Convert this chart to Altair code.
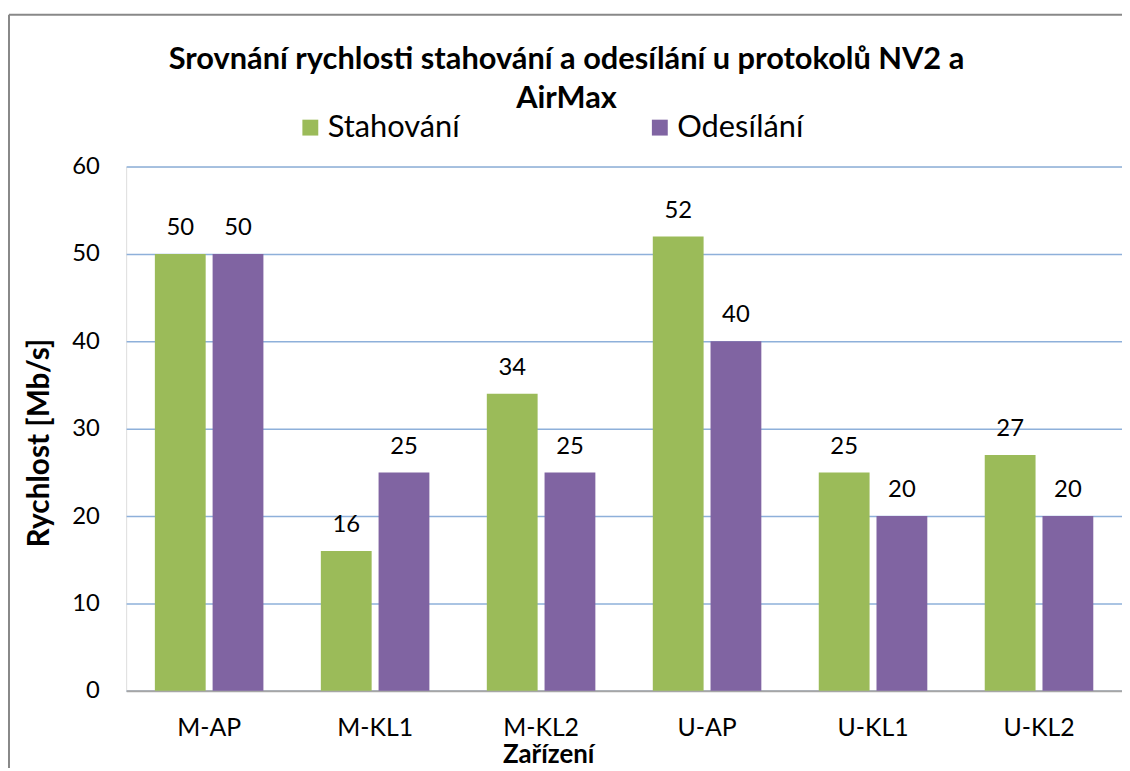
import altair as alt
import pandas as pd

devices = ["M-AP", "M-KL1", "M-KL2", "U-AP", "U-KL1", "U-KL2"]
series = ["Stahování", "Odesílání"]
download = [50, 16, 34, 52, 25, 27]
upload = [50, 25, 25, 40, 20, 20]
colors = ["#9BBB59", "#8064A2"]
y_ticks = [0, 10, 20, 30, 40, 50, 60]

rows = []
for d, a, b in zip(devices, download, upload):
    rows.append({"device": d, "series": series[0], "value": a})
    rows.append({"device": d, "series": series[1], "value": b})
df = pd.DataFrame(rows)

FONT = "Lato"
W, H = 1003, 528

x_enc = alt.X(
    "device:N", sort=devices, title="Zařízení",
    scale=alt.Scale(paddingInner=0.346, paddingOuter=0.173),
    axis=alt.Axis(
        labelAngle=0, labelFont=FONT, labelFontSize=25, labelColor="#000",
        labelPadding=25, ticks=False, domainColor="#A6A6A6", domainWidth=2,
        titleFont=FONT, titleFontSize=26, titleFontWeight="bold", titleColor="#000",
        titleX=425, titleY=64, titleBaseline="middle", titleAlign="center",
    ),
)
y_enc = alt.Y(
    "value:Q", title="Rychlost [Mb/s]",
    scale=alt.Scale(domain=[0, 60], nice=False),
    axis=alt.Axis(
        values=y_ticks, domain=False, ticks=False, labelFont=FONT, labelFontSize=24,
        labelColor="#000", labelPadding=27, gridColor="#8EB0DA", gridWidth=1.5,
        titleFont=FONT, titleFontSize=30, titleFontWeight="bold", titleColor="#000",
        titleX=-87, titleY=278, titleBaseline="middle", titleAlign="center", titleAngle=270,
    ),
)
xo = alt.XOffset("series:N", sort=series, scale=alt.Scale(paddingInner=0.12, paddingOuter=0))
color = alt.Color(
    "series:N", sort=series, scale=alt.Scale(domain=series, range=colors),
    legend=alt.Legend(
        title=None, orient="none", legendX=170, legendY=-55, direction="horizontal",
        symbolType="square", symbolSize=256, symbolStrokeWidth=0, labelFont=FONT,
        labelFontSize=31, labelColor="#000", labelOffset=2, columnPadding=186,
    ),
)

bars = alt.Chart(df).mark_bar().encode(x=x_enc, xOffset=xo, y=y_enc, color=color)
labels = alt.Chart(df).mark_text(
    font=FONT, fontSize=24, color="#000", baseline="alphabetic", dy=-19
).encode(x=alt.X("device:N", sort=devices), xOffset=xo, y="value:Q", text="value:Q")

frame = pd.DataFrame({"k": [0]})
left_line = alt.Chart(frame).mark_rule(color="#888888", strokeWidth=2).encode(
    x=alt.value(-118), y=alt.value(-153), y2=alt.value(640)
)
top_line = alt.Chart(frame).mark_rule(color="#888888", strokeWidth=2).encode(
    x=alt.value(-118), x2=alt.value(W + 10), y=alt.value(-153)
)

chart = alt.layer(bars, labels, left_line, top_line).properties(
    width=W, height=H,
    autosize=alt.AutoSizeParams(type="none"),
    padding={"left": 119, "top": 157, "right": 0, "bottom": 75},
    title=alt.TitleParams(
        text=["Srovnání rychlosti stahování a odesílání u protokolů NV2 a", "AirMax"],
        font=FONT, fontSize=31, fontWeight="bold", color="#000", lineHeight=39,
        anchor="middle", frame="group", dx=-58, dy=104, offset=2,
    ),
).configure_view(stroke=None).configure(background="white")

chart.save("out.html", embed_options={"renderer": "svg", "actions": False})
